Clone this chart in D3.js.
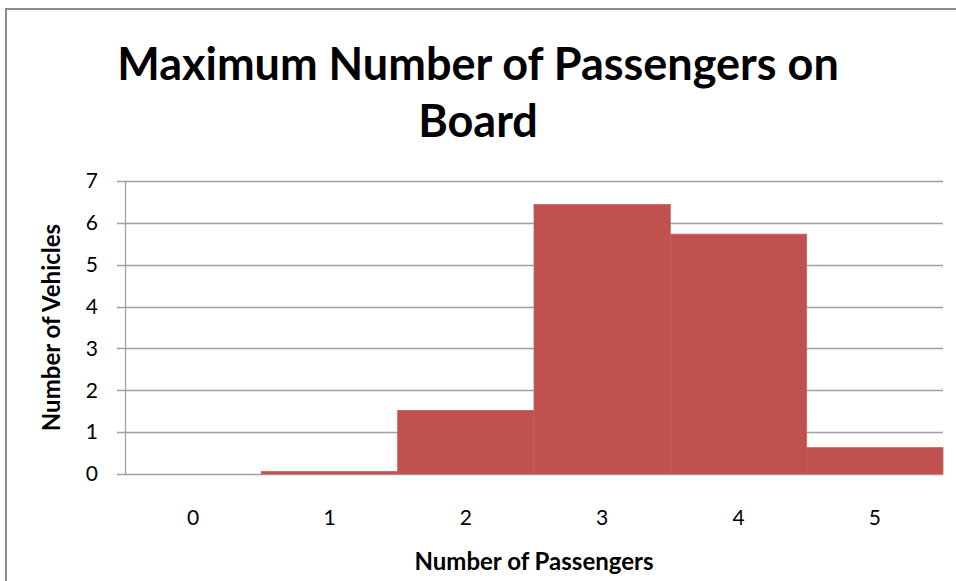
<!DOCTYPE html>
<html>
<head>
<meta charset="utf-8">
<script src="https://cdn.jsdelivr.net/npm/d3@7"></script>
<style>
  body { margin: 0; background: #fff; }
  text { font-family: Lato, "Open Sans", sans-serif; fill: #000; }
</style>
</head>
<body>
<script>
var passengers = ["0", "1", "2", "3", "4", "5"];
var vehicles = [0, 0.06, 1.52, 6.44, 5.73, 0.63];
var yTicks = [0, 1, 2, 3, 4, 5, 6, 7];
var titleLines = ["Maximum Number of Passengers on", "Board"];

var width = 956, height = 581;
var margin = {top: 181, right: 13, bottom: 107, left: 125};

var svg = d3.select("body").append("svg")
    .attr("width", width)
    .attr("height", height);

// outer frame (only top and left edges show in the picture)
svg.append("path")
    .attr("d", "M6," + (height + 5) + "V9H" + (width + 5))
    .attr("fill", "none")
    .attr("stroke", "#8c8c8c")
    .attr("stroke-width", 2);

var x = d3.scaleBand()
    .domain(passengers)
    .range([margin.left, width - margin.right])
    .padding(0);

var y = d3.scaleLinear()
    .domain([0, 7])
    .range([height - margin.bottom, margin.top]);

// gridlines
svg.append("g")
    .selectAll("line")
    .data(yTicks)
  .enter().append("line")
    .attr("x1", margin.left - 8)
    .attr("x2", width - margin.right)
    .attr("y1", function(d) { return Math.round(y(d)) + 0.5; })
    .attr("y2", function(d) { return Math.round(y(d)) + 0.5; })
    .attr("stroke", "#a0a0a0")
    .attr("stroke-width", 1.3);

// bars
svg.append("g")
    .selectAll("rect")
    .data(vehicles)
  .enter().append("rect")
    .attr("x", function(d, i) { return x(passengers[i]); })
    .attr("width", x.bandwidth())
    .attr("y", function(d) { return y(d); })
    .attr("height", function(d) { return y(0) - y(d); })
    .attr("fill", "#c0504d")
    .attr("stroke", "#c9615e")
    .attr("stroke-width", 0.8);

// y axis line
svg.append("line")
    .attr("x1", margin.left + 0.5)
    .attr("x2", margin.left + 0.5)
    .attr("y1", y(7))
    .attr("y2", y(0))
    .attr("stroke", "#a0a0a0")
    .attr("stroke-width", 1.3);

// y tick labels
svg.append("g")
    .selectAll("text")
    .data(yTicks)
  .enter().append("text")
    .attr("x", 98)
    .attr("y", function(d) { return y(d); })
    .attr("dy", "0.35em")
    .attr("text-anchor", "end")
    .style("font-size", "21px")
    .text(function(d) { return d; });

// x tick labels
svg.append("g")
    .selectAll("text")
    .data(passengers)
  .enter().append("text")
    .attr("x", function(d) { return x(d) + x.bandwidth() / 2; })
    .attr("y", 525)
    .attr("text-anchor", "middle")
    .style("font-size", "21px")
    .text(function(d) { return d; });

// axis titles
svg.append("text")
    .attr("x", (margin.left + width - margin.right) / 2)
    .attr("y", 570)
    .attr("text-anchor", "middle")
    .style("font-size", "24px")
    .style("font-weight", "bold")
    .text("Number of Passengers");

svg.append("text")
    .attr("transform", "translate(60," + (y(0) + y(7)) / 2 + ") rotate(-90)")
    .attr("text-anchor", "middle")
    .style("font-size", "24px")
    .style("font-weight", "bold")
    .text("Number of Vehicles");

// chart title
svg.append("g")
    .selectAll("text")
    .data(titleLines)
  .enter().append("text")
    .attr("x", 478)
    .attr("y", function(d, i) { return 80 + i * 57; })
    .attr("text-anchor", "middle")
    .style("font-size", "45px")
    .style("font-weight", "bold")
    .text(function(d) { return d; });
</script>
</body>
</html>
